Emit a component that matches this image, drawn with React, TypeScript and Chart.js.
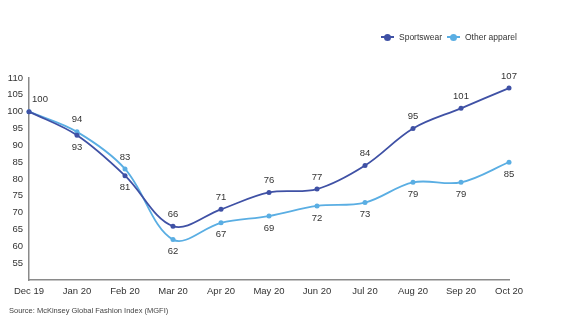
import React, { useEffect, useRef } from "react";
import { Chart, registerables } from "chart.js";
Chart.register(...registerables);

const categories = ["Dec 19", "Jan 20", "Feb 20", "Mar 20", "Apr 20", "May 20", "Jun 20", "Jul 20", "Aug 20", "Sep 20", "Oct 20"];
const sportswear = [100, 93, 81, 66, 71, 76, 77, 84, 95, 101, 107];
const otherApparel = [100, 94, 83, 62, 67, 69, 72, 73, 79, 79, 85];
// label placement: true = above point
const sportswearAbove = [true, false, false, true, true, true, true, true, true, true, true];
const otherAbove = [null, true, true, false, false, false, false, false, false, false, false];
const yTicks = [55, 60, 65, 70, 75, 80, 85, 90, 95, 100, 105, 110];

const DARK = "#3f51a5";
const LIGHT = "#5aaee3";
const FONT = "'Liberation Sans', Arial, sans-serif";

const labelPlugin = {
  id: "pointLabels",
  afterDatasetsDraw(chart: any) {
    const ctx = chart.ctx;
    ctx.save();
    ctx.font = "9.5px " + FONT;
    ctx.fillStyle = "#333";
    ctx.textAlign = "center";
    ctx.textBaseline = "middle";
    const sets = [
      { idx: 0, data: sportswear, above: sportswearAbove },
      { idx: 1, data: otherApparel, above: otherAbove },
    ];
    sets.forEach((s) => {
      const meta = chart.getDatasetMeta(s.idx);
      meta.data.forEach((pt: any, i: number) => {
        const a = s.above[i];
        if (a === null) return;
        const dy = a ? -12 : 12;
        const dx = s.idx === 0 && i === 0 ? 11 : 0;
        ctx.fillText(String(s.data[i]), pt.x + dx, pt.y + dy);
      });
    });
    ctx.restore();
  },
};

export default function App() {
  const ref = useRef<HTMLCanvasElement>(null);
  useEffect(() => {
    document.body.style.margin = "0";
    const chart = new Chart(ref.current!, {
      type: "line",
      data: {
        labels: categories,
        datasets: [
          {
            label: "Sportswear",
            data: sportswear,
            borderColor: DARK,
            backgroundColor: DARK,
            borderWidth: 1.8,
            pointRadius: 2.5,
            pointBorderWidth: 0,
            tension: 0.35,
          },
          {
            label: "Other apparel",
            data: otherApparel,
            borderColor: LIGHT,
            backgroundColor: LIGHT,
            borderWidth: 1.8,
            pointRadius: 2.5,
            pointBorderWidth: 0,
            tension: 0.35,
          },
        ],
      },
      options: {
        animation: false,
        responsive: false,
        maintainAspectRatio: false,
        layout: { padding: { left: 0, right: 55, top: 78, bottom: 0 } },
        plugins: { legend: { display: false }, tooltip: { enabled: false } },
        scales: {
          x: {
            offset: false,
            grid: { display: false, drawTicks: false },
            border: { display: true, color: "#8a8a8a", width: 1.5 },
            ticks: {
              padding: 6,
              color: "#333",
              font: { family: FONT, size: 9.5 },
              maxRotation: 0,
              autoSkip: false,
            },
            afterFit: (s: any) => {
              s.height = 52;
            },
          },
          y: {
            min: 50,
            max: 110,
            grid: { display: false, drawTicks: false },
            border: { display: true, color: "#8a8a8a", width: 1.5 },
            afterBuildTicks: (s: any) => {
              s.ticks = yTicks.map((v) => ({ value: v }));
            },
            ticks: {
              padding: 6,
              color: "#333",
              font: { family: FONT, size: 9.5 },
            },
            afterFit: (s: any) => {
              s.width = 29;
            },
          },
        },
      },
      plugins: [labelPlugin],
    });
    return () => chart.destroy();
  }, []);

  const legendItem = (color: string, text: string, left: number) => (
    <div style={{ position: "absolute", left, top: 32, display: "flex", alignItems: "center", fontFamily: FONT, fontSize: 8.5, color: "#333" }}>
      <span style={{ position: "relative", width: 13, height: 10, display: "inline-block", marginRight: 5 }}>
        <span style={{ position: "absolute", left: 0, top: 4, width: 13, height: 2, background: color }} />
        <span style={{ position: "absolute", left: 3, top: 1.5, width: 7, height: 7, borderRadius: 3.5, background: color }} />
      </span>
      {text}
    </div>
  );

  return (
    <div style={{ position: "relative", width: 564, height: 332, background: "#fff" }}>
      <canvas ref={ref} width={564} height={332} style={{ position: "absolute", left: 0, top: 0 }} />
      {legendItem(DARK, "Sportswear", 381)}
      {legendItem(LIGHT, "Other apparel", 447)}
      <div style={{ position: "absolute", left: 9, top: 306, fontFamily: FONT, fontSize: 7.5, color: "#444" }}>
        Source: McKinsey Global Fashion Index (MGFI)
      </div>
    </div>
  );
}
